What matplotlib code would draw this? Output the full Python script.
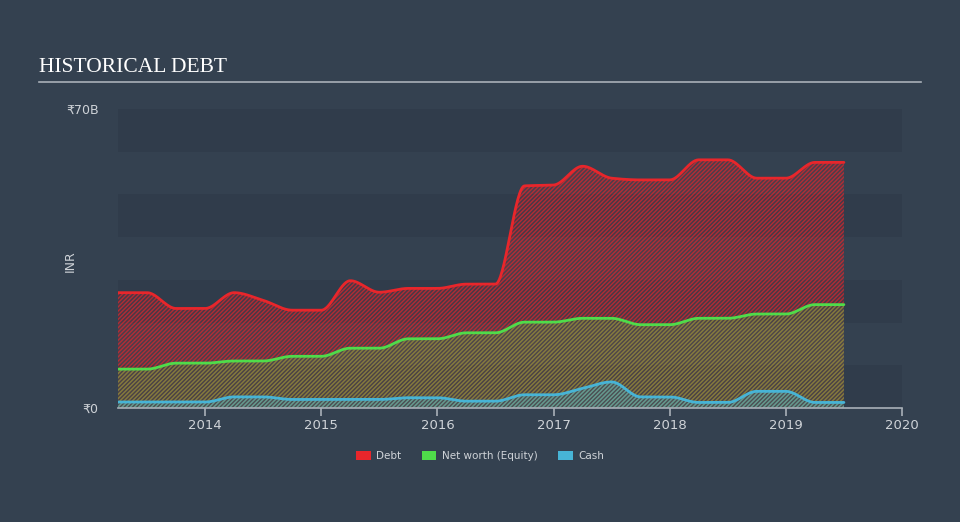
import numpy as np
import matplotlib
matplotlib.use("Agg")
import matplotlib.pyplot as plt
from matplotlib.patches import Patch
from matplotlib.lines import Line2D

# quarterly points, values in INR billions
quarters = [2013.25, 2013.5, 2013.75, 2014.0, 2014.25, 2014.5, 2014.75, 2015.0,
            2015.25, 2015.5, 2015.75, 2016.0, 2016.25, 2016.5, 2016.75, 2017.0,
            2017.25, 2017.5, 2017.75, 2018.0, 2018.25, 2018.5, 2018.75, 2019.0,
            2019.25, 2019.5]
debt = [27.0, 27.0, 23.3, 23.3, 27.0, 25.2, 22.9, 22.9,
        29.8, 27.1, 28.0, 28.0, 29.0, 29.0, 52.0, 52.2,
        56.6, 53.8, 53.4, 53.4, 58.1, 58.1, 53.8, 53.8,
        57.5, 57.5]
equity = [9.1, 9.1, 10.5, 10.5, 11.0, 11.0, 12.1, 12.1,
          14.0, 14.0, 16.2, 16.2, 17.6, 17.6, 20.1, 20.1,
          21.0, 21.0, 19.5, 19.5, 21.0, 21.0, 22.0, 22.0,
          24.2, 24.2]
cash = [1.4, 1.4, 1.4, 1.4, 2.6, 2.6, 2.0, 2.0,
        2.0, 2.0, 2.4, 2.4, 1.6, 1.6, 3.1, 3.1,
        4.6, 6.1, 2.6, 2.6, 1.3, 1.3, 3.9, 3.9,
        1.3, 1.3]
years = [2014, 2015, 2016, 2017, 2018, 2019, 2020]

BG = "#344150"
BAND = "#303c4b"
RED = "#e8262b"
GREEN = "#4fdc4a"
BLUE = "#47b4d6"
TXT = "#cfd3d8"
AXC = "#a9b0b8"


def pchip(x, y, xs):
    # monotone cubic for the smooth step look of the lines
    x = np.asarray(x, float)
    y = np.asarray(y, float)
    h = np.diff(x)
    d = np.diff(y) / h
    m = np.zeros_like(y)
    for k in range(1, len(y) - 1):
        if d[k - 1] * d[k] > 0:
            w1 = 2 * h[k] + h[k - 1]
            w2 = h[k] + 2 * h[k - 1]
            m[k] = (w1 + w2) / (w1 / d[k - 1] + w2 / d[k])
    idx = np.clip(np.searchsorted(x, xs) - 1, 0, len(x) - 2)
    t = (xs - x[idx]) / h[idx]
    h00 = 2 * t**3 - 3 * t**2 + 1
    h10 = t**3 - 2 * t**2 + t
    h01 = -2 * t**3 + 3 * t**2
    h11 = t**3 - t**2
    return h00 * y[idx] + h10 * h[idx] * m[idx] + h01 * y[idx + 1] + h11 * h[idx] * m[idx + 1]


plt.rcParams["font.family"] = ["DejaVu Sans"]
plt.rcParams["hatch.linewidth"] = 1.0

fig = plt.figure(figsize=(9.6, 5.22), dpi=100, facecolor=BG)
ax = fig.add_axes([118 / 960, 1 - 408 / 522, 784 / 960, 299 / 522])
ax.set_facecolor(BG)
ax.set_xlim(2013.25, 2020.0)
ax.set_ylim(0, 70)

# alternating horizontal bands
for lo in range(0, 70, 20):
    ax.axhspan(lo, lo + 10, color=BAND, lw=0, zorder=0)
ax.axhspan(60, 70, color=BAND, lw=0, zorder=0)

xs = np.linspace(quarters[0], quarters[-1], 800)
series = [(debt, RED, 0.65, 0.14), (equity, GREEN, 0.42, 0.08), (cash, BLUE, 0.5, 0.12)]
for vals, col, ea, fa in series:
    ys = pchip(quarters, vals, xs)
    rgb = matplotlib.colors.to_rgb(col)
    ax.fill_between(xs, 0, ys, facecolor=(*rgb, fa),
                    edgecolor=(*rgb, ea),
                    hatch="////////", lw=0, zorder=2)
for vals, col, ea, fa in series:
    ys = pchip(quarters, vals, xs)
    ax.plot(xs, ys, color=col, lw=2, zorder=3, solid_capstyle="round")

for s in ["top", "right", "left"]:
    ax.spines[s].set_visible(False)
ax.spines["bottom"].set_color(AXC)
ax.spines["bottom"].set_linewidth(1.2)
ax.spines["bottom"].set_zorder(4)

ax.set_xticks(years)
ax.set_xticklabels([str(y) for y in years])
ax.tick_params(axis="x", colors=AXC, labelcolor=TXT, length=6, width=1.2,
               labelsize=9.5, pad=2)
ax.set_yticks([0, 70])
ax.set_yticklabels(["₹0", "₹70B"])
ax.tick_params(axis="y", length=0, labelcolor=TXT, labelsize=9, pad=14)
ax.set_ylabel("INR", color=TXT, fontsize=9)
ax.yaxis.set_label_coords(-0.052, 0.49)

fig.text(39 / 960, 1 - 68 / 522, "HISTORICAL DEBT", family="Liberation Serif",
         fontsize=15.5, color="white", va="center", ha="left")
fig.add_artist(Line2D([39 / 960, 921 / 960], [1 - 82 / 522, 1 - 82 / 522],
                      transform=fig.transFigure, color=AXC, lw=1.2))

handles = [Patch(facecolor=RED, edgecolor="none", label="Debt"),
           Patch(facecolor=GREEN, edgecolor="none", label="Net worth (Equity)"),
           Patch(facecolor=BLUE, edgecolor="none", label="Cash")]
leg = fig.legend(handles=handles, loc="center", bbox_to_anchor=(0.5, 1 - 456 / 522),
                 ncol=3, frameon=False, fontsize=7.5, handlelength=1.4,
                 handleheight=0.9, columnspacing=2.0, handletextpad=0.5)
for t in leg.get_texts():
    t.set_color(TXT)

fig.savefig("out.png", dpi=100, facecolor=BG)
